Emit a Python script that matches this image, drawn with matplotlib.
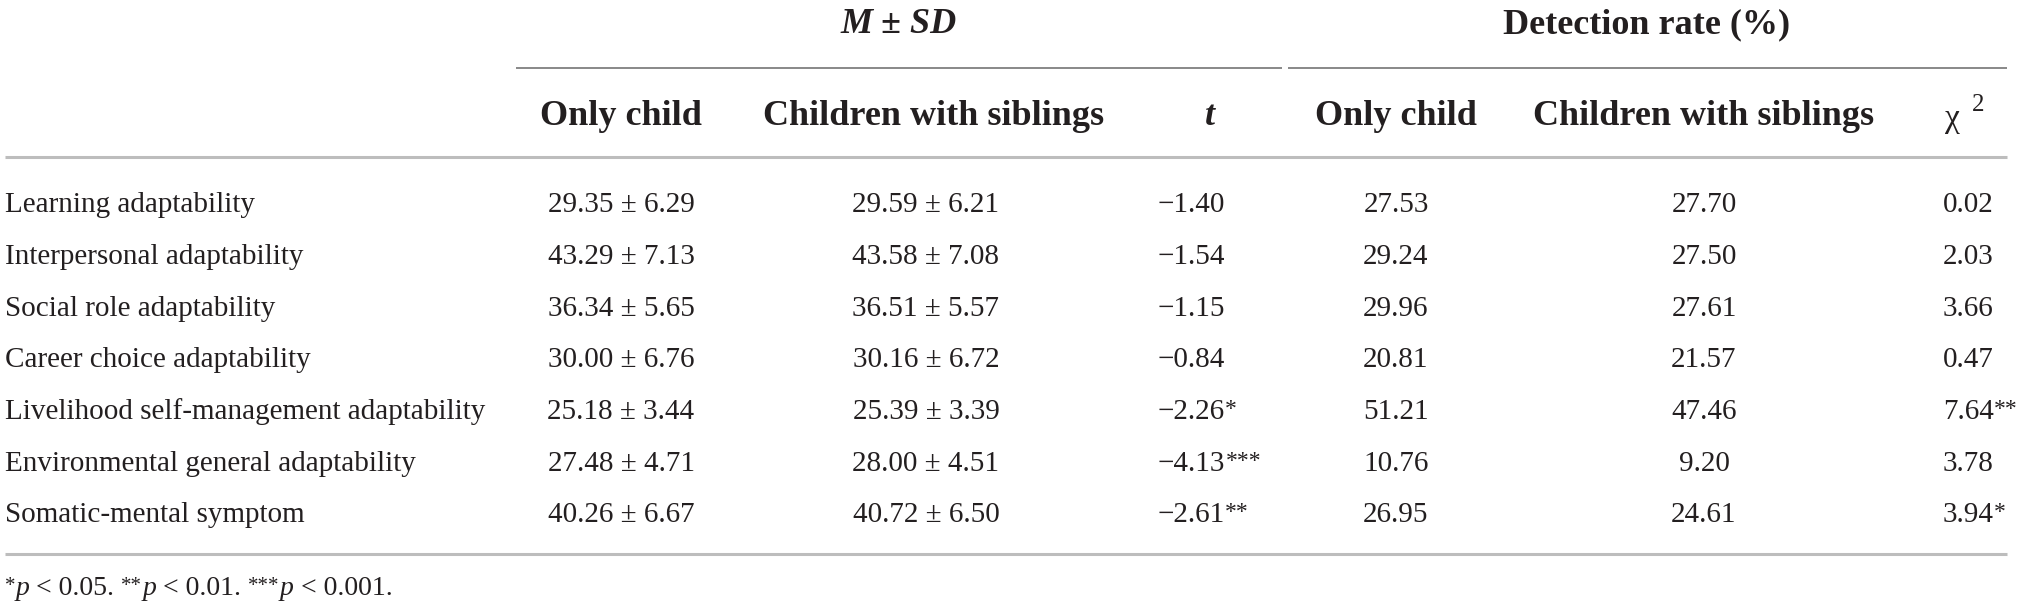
import matplotlib
matplotlib.use("Agg")
import matplotlib.pyplot as plt

plt.rcParams['font.family'] = ['Liberation Serif', 'DejaVu Serif']

TEXT = '#231f20'

row_labels = [
    "Learning adaptability",
    "Interpersonal adaptability",
    "Social role adaptability",
    "Career choice adaptability",
    "Livelihood self-management adaptability",
    "Environmental general adaptability",
    "Somatic-mental symptom",
]
ms_only = ["29.35 \u00b1 6.29", "43.29 \u00b1 7.13", "36.34 \u00b1 5.65", "30.00 \u00b1 6.76",
           "25.18 \u00b1 3.44", "27.48 \u00b1 4.71", "40.26 \u00b1 6.67"]
ms_sib = ["29.59 \u00b1 6.21", "43.58 \u00b1 7.08", "36.51 \u00b1 5.57", "30.16 \u00b1 6.72",
          "25.39 \u00b1 3.39", "28.00 \u00b1 4.51", "40.72 \u00b1 6.50"]
t_vals = ["\u22121.40", "\u22121.54", "\u22121.15", "\u22120.84",
          "\u22122.26", "\u22124.13", "\u22122.61"]
t_stars = ["", "", "", "", "*", "***", "**"]
det_only = ["27.53", "29.24", "29.96", "20.81", "51.21", "10.76", "26.95"]
det_sib = ["27.70", "27.50", "27.61", "21.57", "47.46", "9.20", "24.61"]
chi_vals = ["0.02", "2.03", "3.66", "0.47", "7.64", "3.78", "3.94"]
chi_stars = ["", "", "", "", "**", "", "*"]

sub_headers = ["Only child", "Children with siblings", "Only child", "Children with siblings"]
footnote_parts = [("*", "p", " < 0.05. "), ("**", "p", " < 0.01. "), ("***", "p", " < 0.001.")]

W, H = 2022, 607
fig = plt.figure(figsize=(W / 100, H / 100), dpi=100)
ax = fig.add_axes([0, 0, 1, 1])
ax.set_xlim(0, W)
ax.set_ylim(H, 0)
ax.axis('off')
renderer = fig.canvas.get_renderer()

# column positions (pixels)
x_label = 5
x_ms1, x_ms2 = 621, 926
x_t = 1158
x_d1, x_d2 = 1396, 1704
x_chi = 1943
row_y = [212, 264, 316, 367, 419, 471, 522]   # baselines

body = 21
head = 26


def right_edge(t):
    bb = t.get_window_extent(renderer)
    return ax.transData.inverted().transform((bb.x1, bb.y0))[0]


def put_runs(x, y, runs):
    # runs: (string, fontsize, style, raise_px)
    for s, fs, style, dy in runs:
        t = ax.text(x, y - dy, s, ha='left', va='baseline', fontsize=fs,
                    fontstyle=style, color=TEXT)
        x = right_edge(t)


# group titles
ax.text(899, 33, "M \u00b1 SD", ha='center', va='baseline', fontsize=head,
        fontweight='bold', fontstyle='italic', color=TEXT)
ax.text(1647, 33, "Detection rate (%)", ha='center', va='baseline', fontsize=head,
        fontweight='bold', color=TEXT)
ax.plot([516, 1282], [68, 68], color='#7f7f7f', lw=1.3, solid_capstyle='butt')
ax.plot([1288, 2007], [68, 68], color='#7f7f7f', lw=1.3, solid_capstyle='butt')

# column headers
hy = 125
for x, s in zip([x_ms1, 934, x_d1, x_d2], sub_headers):
    ax.text(x, hy, s, ha='center', va='baseline', fontsize=head, fontweight='bold', color=TEXT)
ax.text(1210, hy, "t", ha='center', va='baseline', fontsize=head, fontweight='bold',
        fontstyle='italic', color=TEXT)
ax.text(1945, hy + 2, "\u03c7", ha='left', va='baseline', fontsize=head - 2, color=TEXT)
ax.text(1972, hy - 14, "2", ha='left', va='baseline', fontsize=head - 8, color=TEXT)

ax.plot([5, 2007], [157, 157], color='#bdbdbd', lw=2.2, solid_capstyle='butt')

# body rows
for i, y in enumerate(row_y):
    ax.text(x_label, y, row_labels[i], ha='left', va='baseline', fontsize=body, color=TEXT)
    ax.text(x_ms1, y, ms_only[i], ha='center', va='baseline', fontsize=body, color=TEXT)
    ax.text(x_ms2, y, ms_sib[i], ha='center', va='baseline', fontsize=body, color=TEXT)
    put_runs(x_t, y, [(t_vals[i], body, 'normal', 0), (t_stars[i], body - 4, 'normal', 4)])
    ax.text(x_d1, y, det_only[i], ha='center', va='baseline', fontsize=body, color=TEXT)
    ax.text(x_d2, y, det_sib[i], ha='center', va='baseline', fontsize=body, color=TEXT)
    put_runs(x_chi, y, [(chi_vals[i], body, 'normal', 0), (chi_stars[i], body - 4, 'normal', 4)])

ax.plot([5, 2007], [554, 554], color='#bdbdbd', lw=2.2, solid_capstyle='butt')

runs = []
for stars, p, rest in footnote_parts:
    runs += [(stars, 15, 'normal', 4), (p, 20, 'italic', 0), (rest, 20, 'normal', 0)]
put_runs(x_label, 595, runs)

fig.savefig("out.png", dpi=100)
